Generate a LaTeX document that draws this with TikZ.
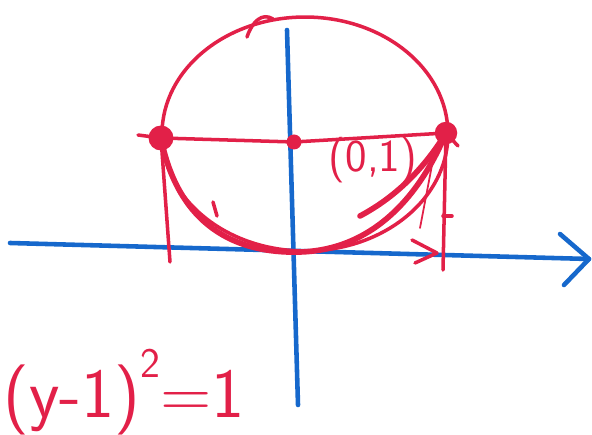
\documentclass[tikz,border=0pt]{standalone}
\usepackage{tikz}
\usetikzlibrary{arrows.meta, positioning}
\definecolor{cPen}{RGB}{226,32,72}
\definecolor{cAxis}{RGB}{22,104,204}
\tikzset{
	axisline/.style={draw=cAxis, line width=2.6pt, line cap=round, line join=round},
	penline/.style ={draw=cPen, line width=2pt, line cap=round, line join=round},
	heavy/.style   ={draw=cPen, line width=3.2pt, line cap=round},
	blob/.style    ={circle, fill=cPen, inner sep=0pt},
	hand/.style    ={text=cPen, inner sep=0pt, font=\sffamily\fontsize{24}{26}\selectfont},
}
\begin{document}
\begin{tikzpicture}[x=0.02cm, y=-0.02cm]
	\useasboundingbox (0,0) rectangle (592,435);
	% axes
	\coordinate (xl) at (10,243);
	\coordinate (xr) at (589,259);
	\coordinate (yt) at (287,30);
	\coordinate (yb) at (298,405);
	\draw[axisline] (xl) -- (xr);
	\draw[axisline] (yt) -- (yb);
	\draw[axisline] (560,234) -- (xr) -- (564,285);
	% circle
	\draw[penline] (305,134) ellipse [x radius=2.86cm, y radius=2.34cm];
	\draw[penline] (247,37) .. controls (252,22) and (262,12) .. (273,19);
	% points on the line y=1
	\node[blob, minimum size=0.5cm] (L) at (161,138) {};
	\node[blob, minimum size=0.3cm] (O) at (294,142) {};
	\node[blob, minimum size=0.45cm] (R) at (446,133) {};
	\coordinate (hl) at (138,135);
	\coordinate (hr) at (458,146);
	\draw[penline] (hl) -- (L.center) -- (O.center) -- (R.center) -- (hr);
	% drop lines to the x-axis
	\coordinate (Lb) at (170,262);
	\coordinate (Rb) at (443,270);
	\draw[penline] (L.center) -- (Lb);
	\draw[penline] (R.center) -- (Rb);
	% lower half, traced over
	\draw[heavy] (L.center) .. controls (178,225) and (235,254) .. (300,252)
		.. controls (370,250) and (418,200) .. (R.center);
	\draw[heavy] (R.center) .. controls (420,175) and (390,200) .. (360,216);
	\draw[penline, line width=1pt] (432,165) -- (420,228);
	% small ticks
	\draw[penline] (213,202) -- (217,216);
	\draw[penline] (443,216) -- (452,216);
	\draw[penline] (412,240) -- (437,253) -- (415,263);
	% labels
	\node[hand, font=\sffamily\fontsize{26}{28}\selectfont] (pt) at (373,160) {(0,1)};
	\node[hand, font=\sffamily\fontsize{40}{42}\selectfont] (eq) at (124,392)
		{(y-1)\raisebox{1.3ex}{\fontsize{24}{26}\selectfont 2}=1};
\end{tikzpicture}
\end{document}
